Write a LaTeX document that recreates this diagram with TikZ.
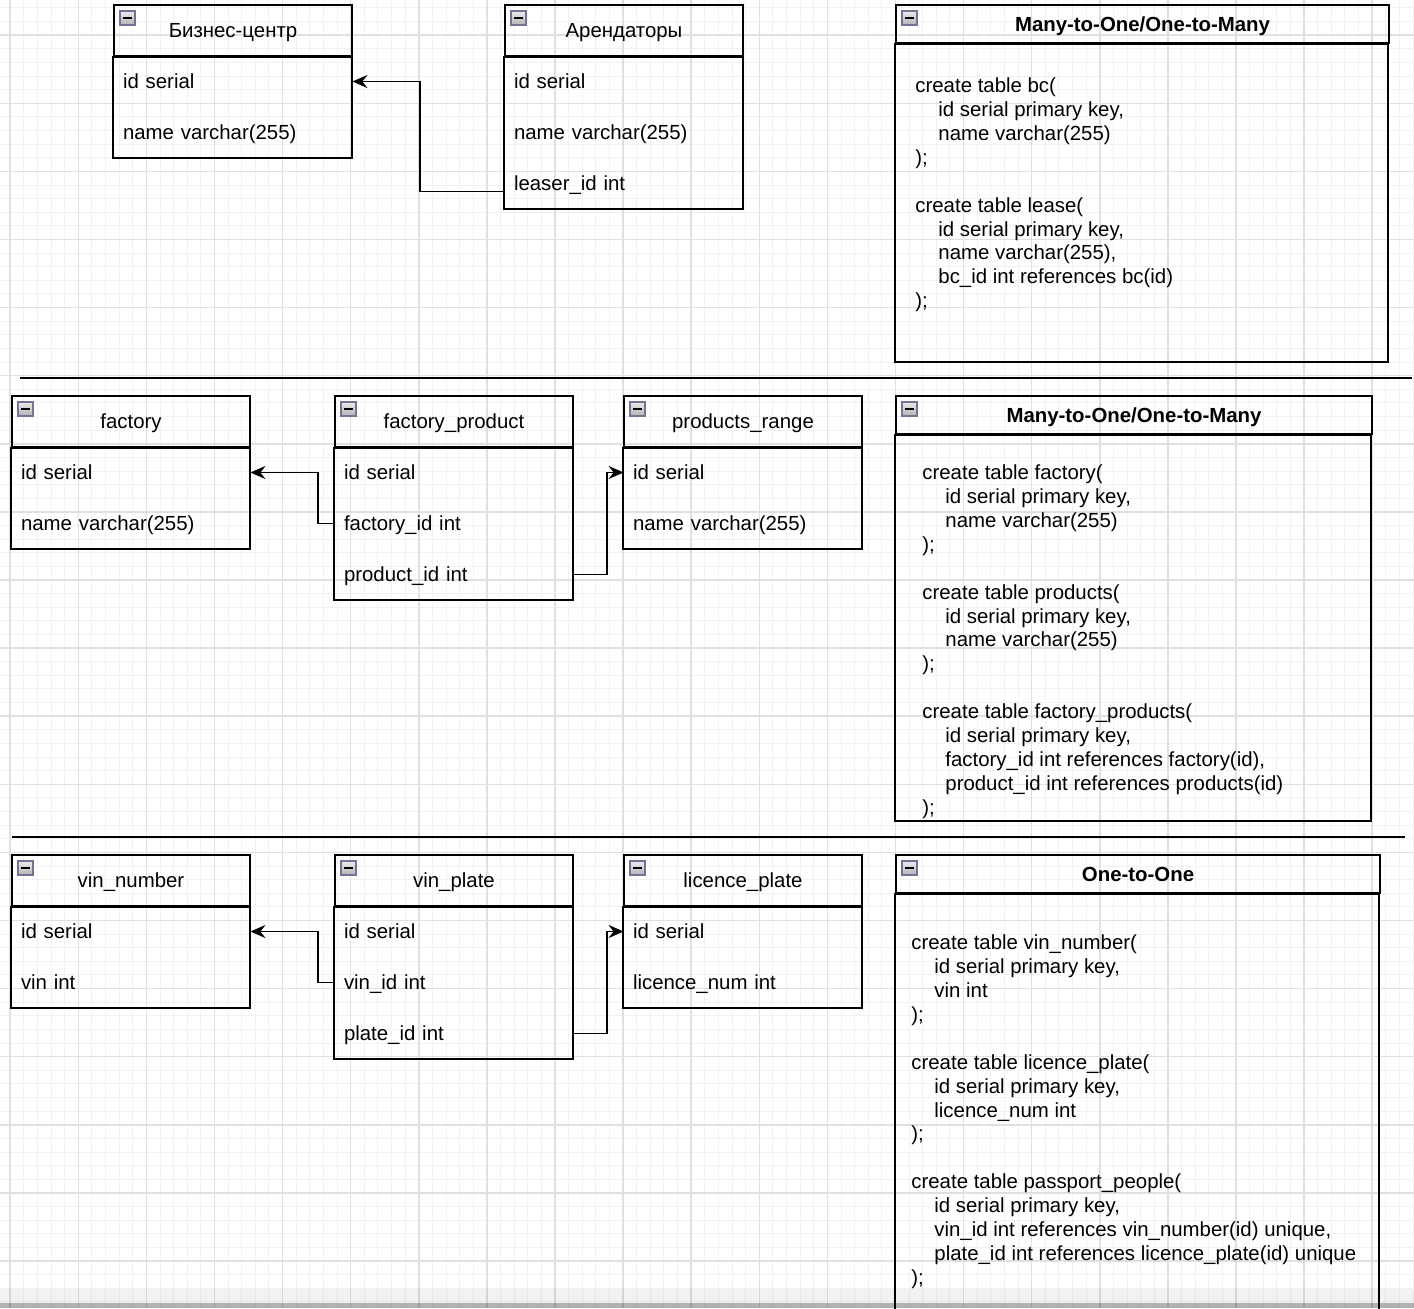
\documentclass[tikz,border=0pt]{standalone}
\usepackage{fontspec}
\setmainfont{Liberation Sans}
\usepackage{tikz}
\usetikzlibrary{calc,backgrounds,arrows.meta}
\usetikzlibrary{positioning}
\tikzstyle{erd}=[
  x=0.5pt,y=-0.5pt,>={Stealth[length=7.5pt,width=6.5pt,inset=2.5pt]},font=\fontsize{10.2}{11.95}\selectfont
]
\tikzstyle{tablehead}=[
  draw,line width=0.95pt,minimum width=119pt,minimum height=25.5pt,inner sep=0pt,
  text height=7.4pt,text depth=0.2pt
]
\tikzstyle{tablerow}=[
  minimum height=25.5pt,text width=110pt,inner xsep=4.5pt,inner ysep=0pt,align=left,
  text height=7.4pt,text depth=0.2pt
]
\tikzstyle{tablebox}=[
  draw,line width=0.95pt
]
\tikzstyle{sqlhead}=[
  draw,line width=0.95pt,minimum height=19pt,inner sep=0pt,font=\fontsize{10.2}{11.95}\selectfont\bfseries,
  text height=7.4pt,text depth=0.2pt
]
\tikzstyle{sqltext}=[
  anchor=north west,inner sep=0pt,align=left
]
\tikzstyle{fklink}=[
  ->,line width=0.95pt
]
\tikzstyle{minorgrid}=[
  black!5,line width=0.5pt
]
\tikzstyle{majorgrid}=[
  black!12,line width=0.75pt
]
\tikzstyle{divider}=[
  line width=0.9pt
]
\tikzstyle{collapse}=[
  draw=blue!25!black!55,top color=black!8,bottom color=black!30,line width=0.6pt
]
\newcommand{\collapseicon}[1]{%
  \draw [collapse] ($(#1.north west)+(7,7)$) rectangle ++(15,14);
  \draw [line width=1pt] ($(#1.north west)+(10,14)$) -- ++(9,0);
}
\newcommand{\ind}{\hspace*{11.5pt}}

\begin{document}
\begin{tikzpicture}[erd]
    \useasboundingbox (0,0) rectangle (1414,1308);
    \clip (0,0) rectangle (1414,1308);
    \def\rowh{51}
    % grid
    \foreach \i in {-1,...,103}
      \draw [minorgrid] ({10.2+13.62*\i},0) -- ({10.2+13.62*\i},1308);
    \foreach \j in {0,...,96}
      \draw [minorgrid] (0,{7.96+13.62*\j}) -- (1414,{7.96+13.62*\j});
    \foreach \i in {0,...,20}
      \draw [majorgrid] ({10.2+68.1*\i},0) -- ({10.2+68.1*\i},1308);
    \foreach \j in {0,...,18}
      \draw [majorgrid] (0,{35.2+68.1*\j}) -- (1414,{35.2+68.1*\j});

    % Many-to-One
    \node (bc) at (233,30.5) [tablehead] {Бизнес-центр};
    \node (bc1) at ($(bc) + (0,\rowh)$) [tablerow] {id serial};
    \node (bc2) at ($(bc1) + (0,\rowh)$) [tablerow] {name varchar(255)};
    \draw [tablebox] (bc.south west) rectangle (bc2.south east);
    \collapseicon{bc}
    \node (le) at (624,30.5) [tablehead] {Арендаторы};
    \node (le1) at ($(le) + (0,\rowh)$) [tablerow] {id serial};
    \node (le2) at ($(le1) + (0,\rowh)$) [tablerow] {name varchar(255)};
    \node (le3) at ($(le2) + (0,\rowh)$) [tablerow] {leaser\_id int};
    \draw [tablebox] (le.south west) rectangle (le3.south east);
    \collapseicon{le}
    \coordinate (lefk) at ($(le3.west) + (0,8)$);
    \draw [fklink] (lefk) -- ++(-85,0) |- (bc1.east);

    \node (sq1) at (1142.5,24) [sqlhead,minimum width=246.5pt] {Many-to-One/One-to-Many};
    \draw [tablebox] (sq1.south west) rectangle ++(493,318);
    \collapseicon{sq1}
    \node (sq1code) at (915,77.5) [sqltext] {create table bc(\\
      \ind id serial primary key,\\
      \ind name varchar(255)\\
      );\\
      ~\\
      create table lease(\\
      \ind id serial primary key,\\
      \ind name varchar(255),\\
      \ind bc\_id int references bc(id)\\
      );};

    \draw [divider] (20,378) -- (1412,378);

    % Many-to-Many
    \node (fa) at (131,421.5) [tablehead] {factory};
    \node (fa1) at ($(fa) + (0,\rowh)$) [tablerow] {id serial};
    \node (fa2) at ($(fa1) + (0,\rowh)$) [tablerow] {name varchar(255)};
    \draw [tablebox] (fa.south west) rectangle (fa2.south east);
    \collapseicon{fa}
    \node (fp) at (454,421.5) [tablehead] {factory\_product};
    \node (fp1) at ($(fp) + (0,\rowh)$) [tablerow] {id serial};
    \node (fp2) at ($(fp1) + (0,\rowh)$) [tablerow] {factory\_id int};
    \node (fp3) at ($(fp2) + (0,\rowh)$) [tablerow] {product\_id int};
    \draw [tablebox] (fp.south west) rectangle (fp3.south east);
    \collapseicon{fp}
    \node (pr) at (743,421.5) [tablehead] {products\_range};
    \node (pr1) at ($(pr) + (0,\rowh)$) [tablerow] {id serial};
    \node (pr2) at ($(pr1) + (0,\rowh)$) [tablerow] {name varchar(255)};
    \draw [tablebox] (pr.south west) rectangle (pr2.south east);
    \collapseicon{pr}
    \draw [fklink] (fp2.west) -- ++(-17,0) |- (fa1.east);
    \draw [fklink] (fp3.east) -- ++(34,0) |- (pr1.west);

    \node (sq2) at (1134,415) [sqlhead,minimum width=238pt] {Many-to-One/One-to-Many};
    \draw [tablebox] (sq2.south west) rectangle ++(476,386);
    \collapseicon{sq2}
    \node (sq2code) at (922,464.5) [sqltext] {create table factory(\\
      \ind id serial primary key,\\
      \ind name varchar(255)\\
      );\\
      ~\\
      create table products(\\
      \ind id serial primary key,\\
      \ind name varchar(255)\\
      );\\
      ~\\
      create table factory\_products(\\
      \ind id serial primary key,\\
      \ind factory\_id int references factory(id),\\
      \ind product\_id int references products(id)\\
      );};

    \draw [divider] (12,837) -- (1405,837);

    % One-to-One
    \node (vn) at (131,880.5) [tablehead] {vin\_number};
    \node (vn1) at ($(vn) + (0,\rowh)$) [tablerow] {id serial};
    \node (vn2) at ($(vn1) + (0,\rowh)$) [tablerow] {vin int};
    \draw [tablebox] (vn.south west) rectangle (vn2.south east);
    \collapseicon{vn}
    \node (vp) at (454,880.5) [tablehead] {vin\_plate};
    \node (vp1) at ($(vp) + (0,\rowh)$) [tablerow] {id serial};
    \node (vp2) at ($(vp1) + (0,\rowh)$) [tablerow] {vin\_id int};
    \node (vp3) at ($(vp2) + (0,\rowh)$) [tablerow] {plate\_id int};
    \draw [tablebox] (vp.south west) rectangle (vp3.south east);
    \collapseicon{vp}
    \node (lp) at (743,880.5) [tablehead] {licence\_plate};
    \node (lp1) at ($(lp) + (0,\rowh)$) [tablerow] {id serial};
    \node (lp2) at ($(lp1) + (0,\rowh)$) [tablerow] {licence\_num int};
    \draw [tablebox] (lp.south west) rectangle (lp2.south east);
    \collapseicon{lp}
    \draw [fklink] (vp2.west) -- ++(-17,0) |- (vn1.east);
    \draw [fklink] (vp3.east) -- ++(34,0) |- (lp1.west);

    \node (sq3) at (1138,874) [sqlhead,minimum width=242pt] {One-to-One};
    \draw [tablebox] (sq3.south west) rectangle ++(484,440);
    \collapseicon{sq3}
    \node (sq3code) at (911,934.5) [sqltext] {create table vin\_number(\\
      \ind id serial primary key,\\
      \ind vin int\\
      );\\
      ~\\
      create table licence\_plate(\\
      \ind id serial primary key,\\
      \ind licence\_num int\\
      );\\
      ~\\
      create table passport\_people(\\
      \ind id serial primary key,\\
      \ind vin\_id int references vin\_number(id) unique,\\
      \ind plate\_id int references licence\_plate(id) unique\\
      );};

    \fill [black,opacity=0.05] (0,1289) rectangle (1414,1303);
    \fill [black,opacity=0.3] (0,1303) rectangle (1414,1308);
\end{tikzpicture}
\end{document}
